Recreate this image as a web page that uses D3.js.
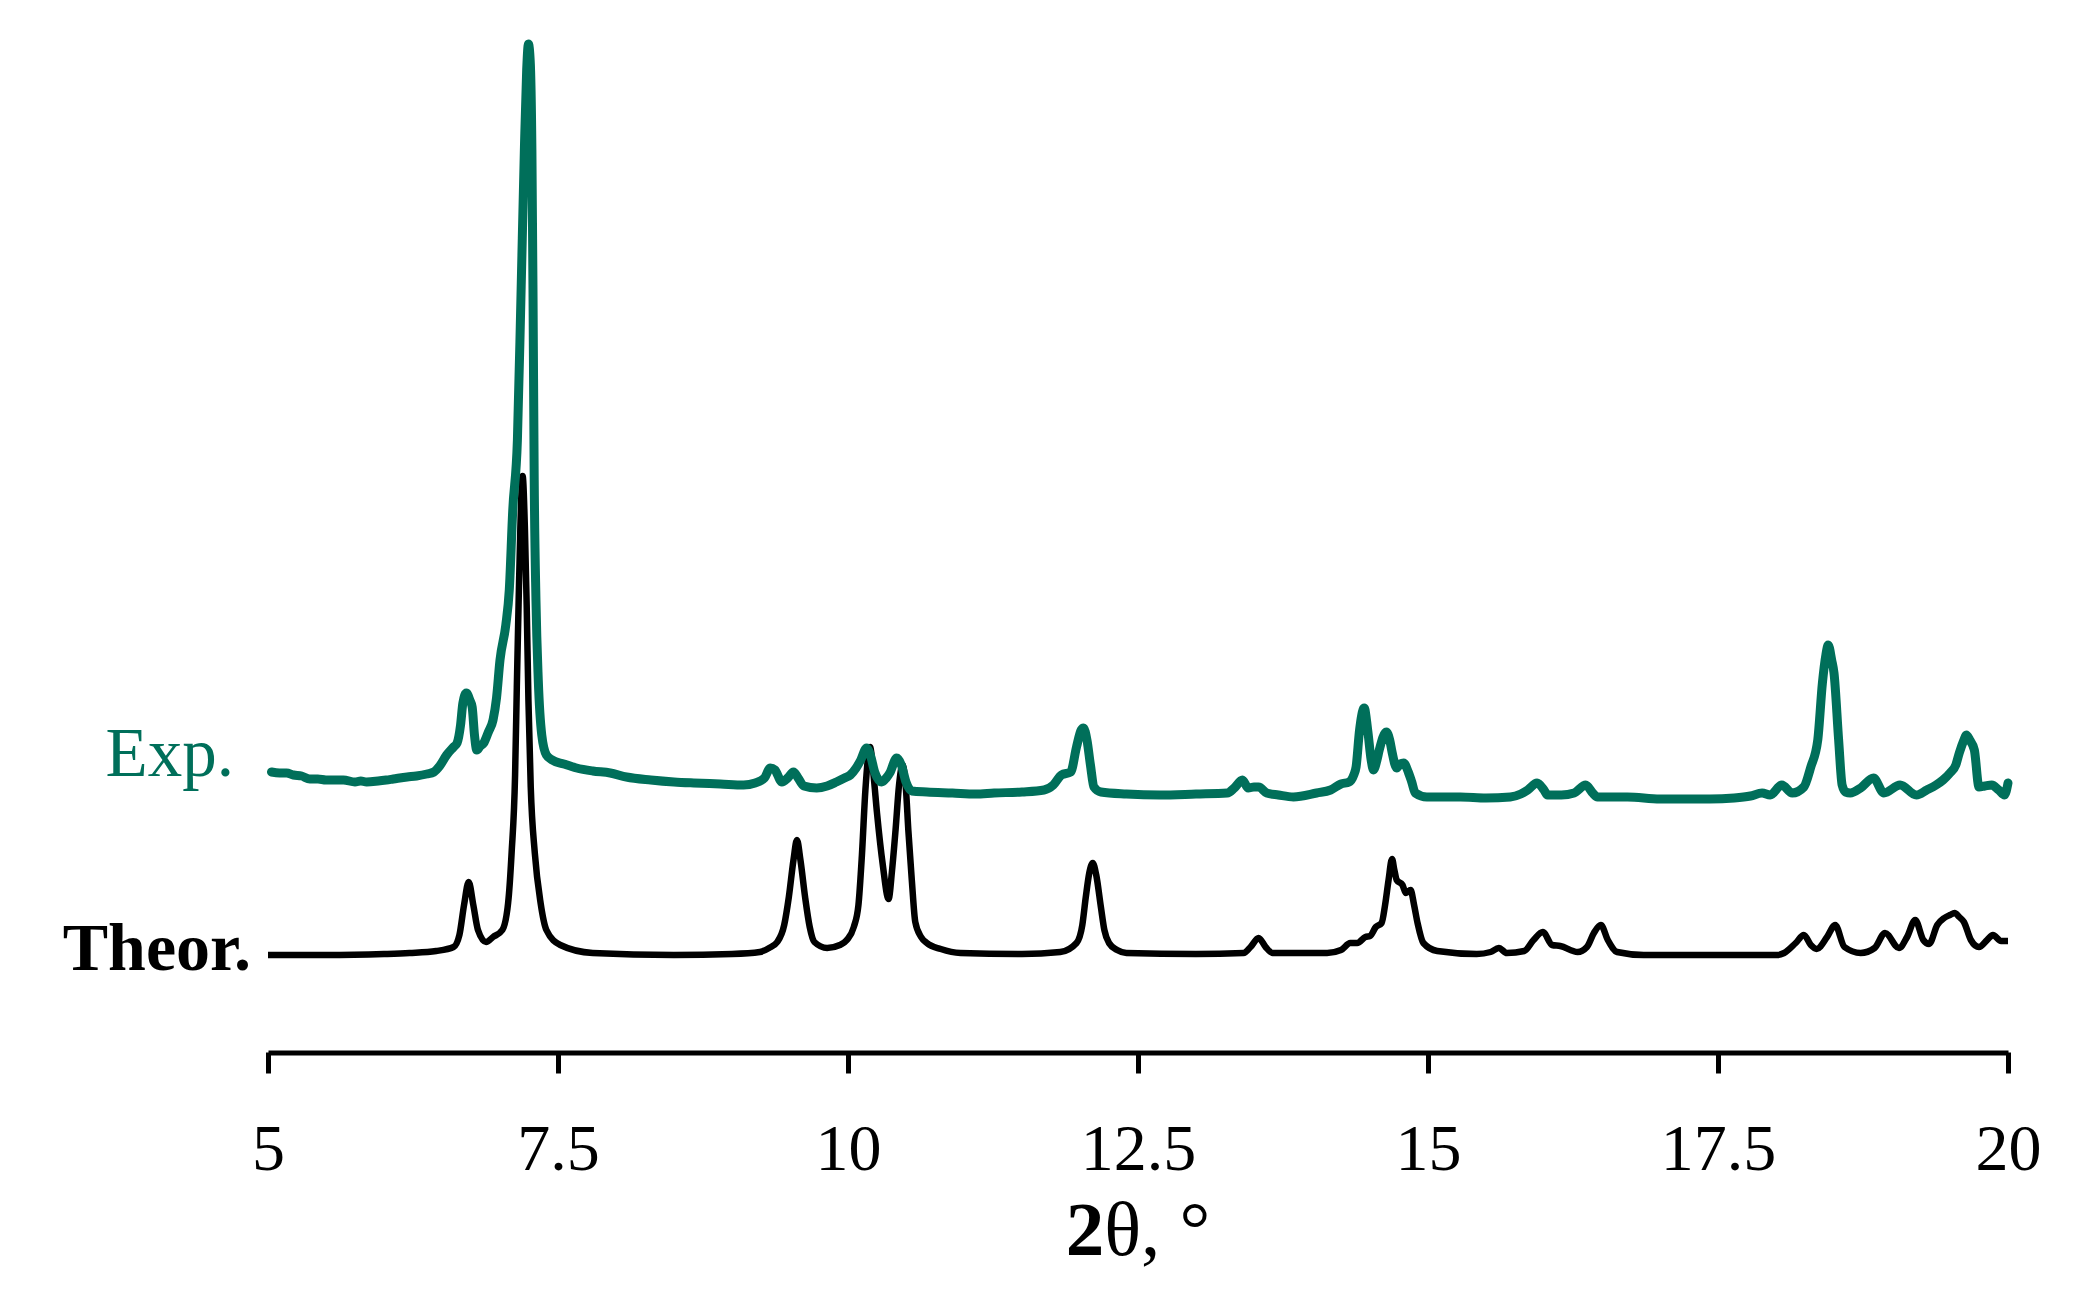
<!DOCTYPE html>
<html>
<head>
<meta charset="utf-8">
<script src="https://cdn.jsdelivr.net/npm/d3@7"></script>
<style>
  html, body { margin: 0; padding: 0; background: #ffffff; }
  svg { display: block; }
</style>
</head>
<body>
<div id="chart"></div>
<script>
// ---- Data ----
const xTicks = [5, 7.5, 10, 12.5, 15, 17.5, 20];
const xTickLabels = ["5", "7.5", "10", "12.5", "15", "17.5", "20"];
const seriesNames = ["Exp.", "Theor."];
const expOffset = 155; // vertical stacking offset of the experimental pattern

// Theoretical pattern: [2θ, intensity]
const theorPattern = [
  [5.0,0],[5.5,0],[6.0,1],[6.22,2],[6.45,4],[6.60,8],[6.65,20],[6.69,50],[6.73,73],[6.77,50],
  [6.81,25],[6.88,13],[6.94,18],[7.02,25],[7.07,52],[7.10,102],[7.13,180],[7.145,268],[7.16,350],
  [7.175,425],[7.195,479],[7.215,425],[7.23,350],[7.245,255],[7.265,168],[7.30,102],[7.35,52],
  [7.40,25],[7.52,10],[7.80,2],[8.5,0],[9.0,1],[9.24,3],[9.32,7],[9.39,13],[9.45,30],[9.49,58],
  [9.53,95],[9.56,115],[9.59,95],[9.63,58],[9.67,28],[9.71,13],[9.82,7],[9.93,10],[9.99,15],
  [10.05,28],[10.09,50],[10.12,100],[10.15,165],[10.19,208],[10.22,180],[10.25,142],[10.30,90],
  [10.35,56],[10.38,85],[10.41,125],[10.44,170],[10.47,190],[10.50,165],[10.52,125],[10.55,75],
  [10.58,33],[10.63,18],[10.68,12],[10.8,6],[10.97,2],[11.5,1],[11.83,3],[11.97,12],[12.02,30],
  [12.05,58],[12.08,82],[12.11,92],[12.14,80],[12.18,48],[12.21,25],[12.25,12],[12.32,5],[12.40,2],
  [13.0,1],[13.41,2],[13.47,8],[13.54,17],[13.60,8],[13.66,2],[14.13,2],[14.25,5],[14.33,12],
  [14.39,12],[14.46,18],[14.50,19],[14.55,28],[14.60,32],[14.63,50],[14.66,75],[14.69,96],
  [14.71,85],[14.73,75],[14.78,70],[14.81,62],[14.85,65],[14.88,50],[14.91,32],[14.96,12],
  [15.08,4],[15.42,1],[15.54,3],[15.61,7],[15.68,2],[15.83,4],[15.91,15],[15.99,23],[16.07,10],
  [16.14,9],[16.29,3],[16.37,8],[16.43,22],[16.49,30],[16.55,15],[16.63,3],[16.86,0],[18.01,0],
  [18.07,2],[18.17,12],[18.24,20],[18.30,10],[18.35,6],[18.44,18],[18.51,30],[18.59,8],[18.73,2],
  [18.85,7],[18.94,22],[19.06,7],[19.13,18],[19.20,35],[19.27,15],[19.32,11],[19.39,30],[19.45,37],
  [19.50,40],[19.54,42],[19.58,38],[19.62,33],[19.68,15],[19.75,8],[19.82,15],[19.87,20],
  [19.94,14],[20.0,14]
];

// Experimental pattern: [2θ, intensity] (before stacking offset)
const expPattern = [
  [5.03,28],[5.10,27],[5.16,27],[5.22,25],[5.29,24],[5.36,21],[5.43,21],[5.50,20],[5.58,20],
  [5.65,20],[5.75,18],[5.80,19],[5.85,18],[5.95,19],[6.02,20],[6.08,21],[6.20,23],[6.28,24],
  [6.37,26],[6.43,28],[6.48,34],[6.54,45],[6.60,53],[6.63,57],[6.66,75],[6.68,97],[6.71,107],
  [6.74,100],[6.76,93],[6.78,65],[6.80,50],[6.83,54],[6.86,57],[6.90,68],[6.94,80],[6.97,102],
  [7.00,140],[7.05,175],[7.08,210],[7.11,290],[7.15,360],[7.18,500],[7.21,650],[7.23,730],
  [7.245,756],[7.26,740],[7.275,650],[7.285,500],[7.295,320],[7.31,200],[7.33,120],[7.36,65],
  [7.40,45],[7.45,40],[7.55,36],[7.66,32],[7.80,29],[7.95,27],[8.09,23],[8.30,20],[8.50,18],
  [8.67,17],[8.90,16],[9.10,15],[9.20,17],[9.28,22],[9.33,32],[9.37,30],[9.43,18],[9.48,22],
  [9.53,28],[9.57,22],[9.62,14],[9.73,12],[9.82,14],[9.90,18],[9.97,22],[10.02,25],[10.07,32],
  [10.11,40],[10.16,52],[10.20,42],[10.23,28],[10.29,18],[10.33,22],[10.36,27],[10.42,42],
  [10.46,35],[10.50,18],[10.55,9],[10.68,8],[10.90,7],[11.10,6],[11.26,7],[11.50,8],[11.69,10],
  [11.77,15],[11.84,25],[11.92,28],[11.97,53],[12.01,70],[12.03,72],[12.06,60],[12.09,35],
  [12.12,13],[12.18,8],[12.40,6],[12.69,5],[13.00,6],[13.27,7],[13.33,12],[13.40,20],[13.45,12],
  [13.50,13],[13.54,13],[13.61,7],[13.71,5],[13.84,3],[14.04,7],[14.16,10],[14.25,16],[14.32,18],
  [14.36,25],[14.38,33],[14.41,70],[14.45,92],[14.48,70],[14.51,40],[14.53,30],[14.56,40],
  [14.58,50],[14.64,68],[14.67,60],[14.69,48],[14.73,32],[14.76,36],[14.79,37],[14.83,28],
  [14.86,18],[14.89,7],[14.99,3],[15.28,3],[15.50,2],[15.71,3],[15.80,6],[15.86,10],[15.94,17],
  [16.00,10],[16.03,5],[16.15,5],[16.26,7],[16.36,15],[16.42,7],[16.46,3],[16.72,3],[17.00,1],
  [17.20,1],[17.43,1],[17.64,2],[17.78,4],[17.88,7],[17.95,5],[18.05,15],[18.14,7],[18.24,13],
  [18.30,33],[18.36,60],[18.40,117],[18.43,145],[18.45,155],[18.48,140],[18.50,127],[18.54,60],
  [18.57,15],[18.60,8],[18.64,7],[18.73,12],[18.84,22],[18.93,7],[19.07,15],[19.21,5],[19.30,10],
  [19.38,15],[19.44,20],[19.50,27],[19.55,35],[19.58,47],[19.62,60],[19.64,65],[19.67,60],
  [19.71,50],[19.75,13],[19.80,14],[19.86,15],[19.92,10],[19.97,5],[20.0,17]
];

// ---- Layout ----
const W = 2088, H = 1295;
const x = d3.scaleLinear().domain([5, 20]).range([268, 2008]);
const y = d3.scaleLinear().domain([0, 911]).range([955, 44]);
const axisY = 1052.5;
const teal = "#006F5A";
const fontFam = "'Liberation Serif', 'Times New Roman', serif";

const svg = d3.select("#chart").append("svg")
  .attr("width", W).attr("height", H)
  .attr("viewBox", `0 0 ${W} ${H}`)
  .style("background", "#fff");

const line = d3.line()
  .x(d => x(d[0]))
  .curve(d3.curveMonotoneX);

// Theoretical
svg.append("path")
  .datum(theorPattern)
  .attr("d", line.y(d => y(d[1])))
  .attr("fill", "none")
  .attr("stroke", "#000")
  .attr("stroke-width", 6.5)
  .attr("stroke-linejoin", "round")
  .attr("stroke-linecap", "butt");

// Experimental
svg.append("path")
  .datum(expPattern)
  .attr("d", line.y(d => y(d[1] + expOffset)))
  .attr("fill", "none")
  .attr("stroke", teal)
  .attr("stroke-width", 9)
  .attr("stroke-linejoin", "round")
  .attr("stroke-linecap", "round");

// X axis
const axis = d3.axisBottom(x)
  .tickValues(xTicks)
  .tickFormat((d, i) => xTickLabels[i])
  .tickSize(21)
  .tickSizeOuter(0);

const gx = svg.append("g")
  .attr("transform", `translate(0,${axisY})`)
  .call(axis);
gx.select(".domain").attr("stroke", "#000").attr("stroke-width", 5);
gx.selectAll(".tick line").attr("stroke", "#000").attr("stroke-width", 5);
gx.selectAll(".tick text")
  .attr("y", 117)
  .attr("dy", 0)
  .attr("fill", "#000")
  .style("font-family", fontFam)
  .style("font-size", "66px");

// Axis title
const title = svg.append("text")
  .attr("x", (x(5) + x(20)) / 2)
  .attr("y", 1255)
  .attr("text-anchor", "middle")
  .style("font-family", fontFam)
  .style("font-size", "77px")
  .attr("fill", "#000");
title.append("tspan").style("font-weight", "bold").text("2");
title.append("tspan").text("θ, °");

// Series labels
svg.append("text")
  .attr("x", 234).attr("y", 776)
  .attr("text-anchor", "end")
  .style("font-family", fontFam)
  .style("font-size", "69px")
  .attr("fill", teal)
  .text(seriesNames[0]);

svg.append("text")
  .attr("x", 251).attr("y", 970)
  .attr("text-anchor", "end")
  .style("font-family", fontFam)
  .style("font-size", "68px")
  .style("font-weight", "bold")
  .attr("fill", "#000")
  .text(seriesNames[1]);
</script>
</body>
</html>
